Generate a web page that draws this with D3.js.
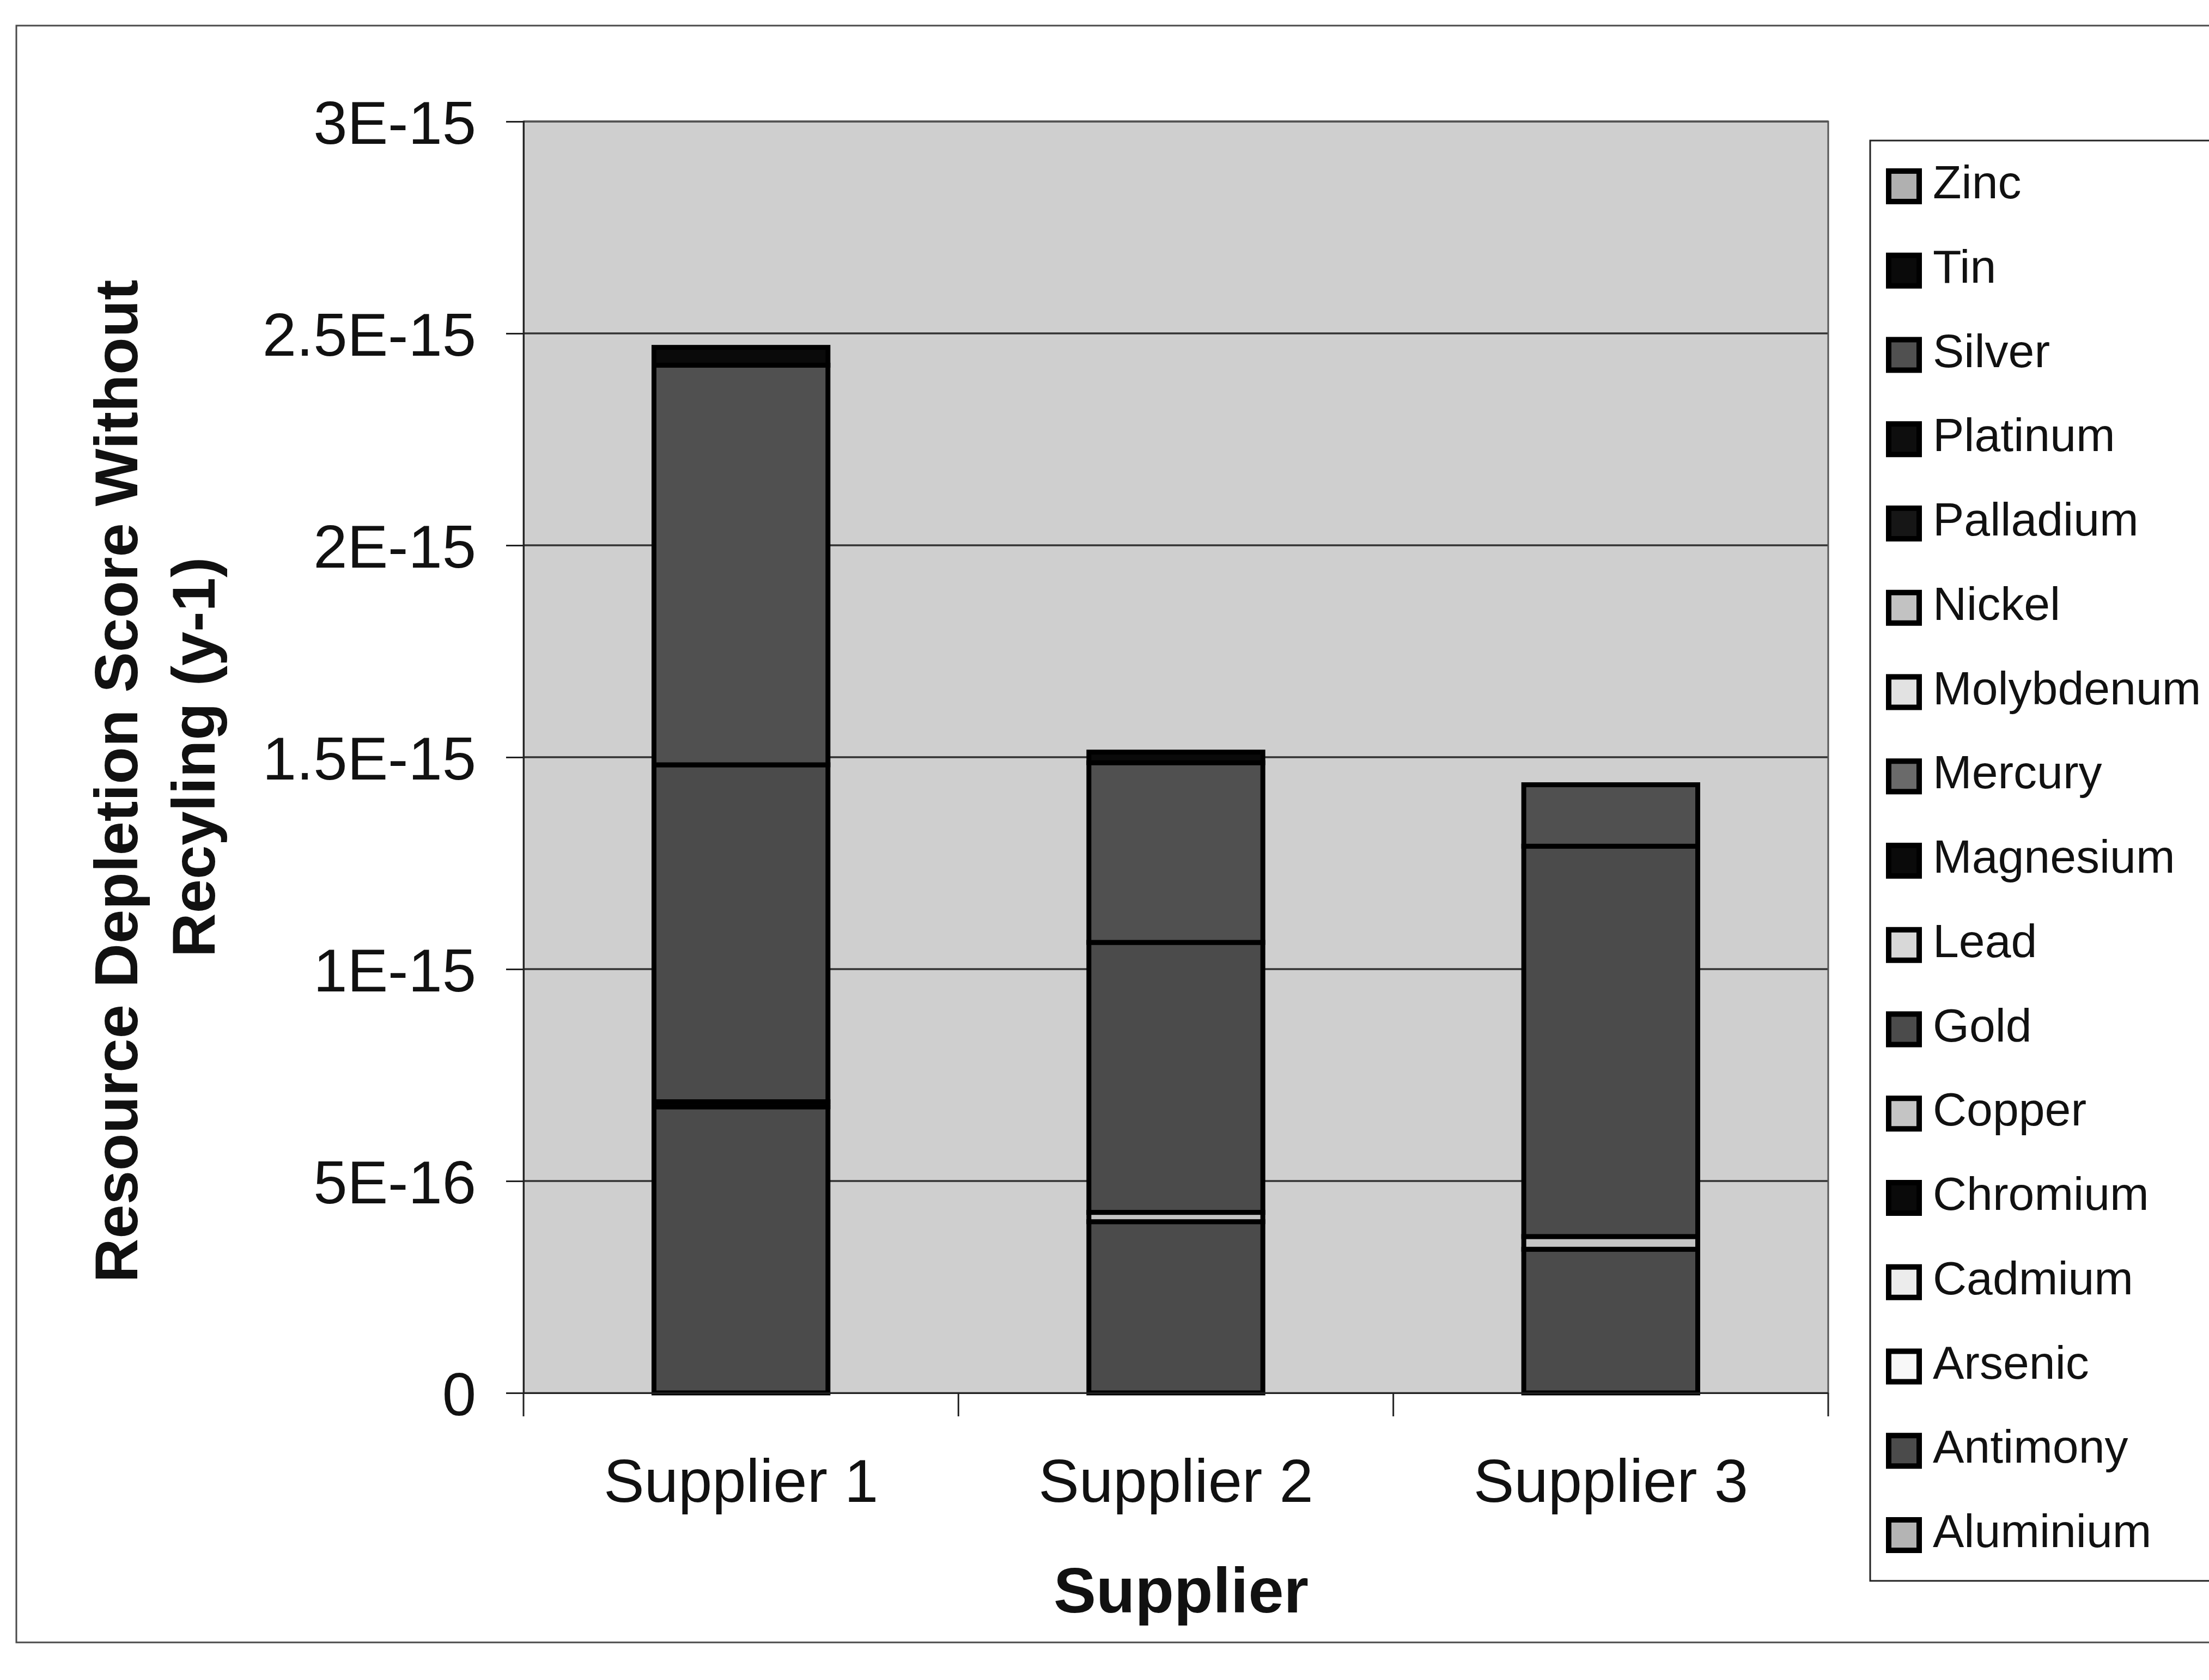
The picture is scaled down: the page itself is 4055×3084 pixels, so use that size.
<!DOCTYPE html>
<html>
<head>
<meta charset="utf-8">
<script src="https://cdn.jsdelivr.net/npm/d3@7/dist/d3.min.js"></script>
<style>
  html, body { margin: 0; padding: 0; background: #ffffff; }
  svg { display: block; }
  text { font-family: "Liberation Sans", Arial, Helvetica, sans-serif; fill: #111; }
</style>
</head>
<body>
<svg id="chart" width="4055" height="3084"></svg>
<script>
// Suppliers on the x axis
const suppliers = ["Supplier 1", "Supplier 2", "Supplier 3"];

// Metals in stacking order (first = bottom of each column)
const metals = ["Aluminium", "Antimony", "Arsenic", "Cadmium", "Chromium", "Copper", "Gold",
  "Lead", "Magnesium", "Mercury", "Molybdenum", "Nickel", "Palladium", "Platinum",
  "Silver", "Tin", "Zinc"];

// Resource depletion score per metal and supplier (y-1)
const aluminium  = [0, 0, 0];
const antimony   = [0.675e-15, 0.404e-15, 0.339e-15];
const arsenic    = [0, 0, 0];
const cadmium    = [0, 0, 0];
const chromium   = [0.012e-15, 0, 0];
const copper     = [0, 0.022e-15, 0.030e-15];
const gold       = [0.795e-15, 0.637e-15, 0.921e-15];
const lead       = [0, 0, 0];
const magnesium  = [0, 0, 0];
const mercury    = [0, 0, 0];
const molybdenum = [0, 0, 0];
const nickel     = [0, 0, 0];
const palladium  = [0, 0, 0];
const platinum   = [0, 0, 0];
const silver     = [0.943e-15, 0.424e-15, 0.145e-15];
const tin        = [0.042e-15, 0.025e-15, 0];
const zinc       = [0, 0, 0];

// Grey shades used for each metal
const metalColors = ["#b4b4b4", "#4b4b4b", "#f8f8f8", "#ececec", "#0a0a0a", "#c4c4c4", "#4b4b4b",
  "#d8d8d8", "#0a0a0a", "#6a6a6a", "#e2e2e2", "#c2c2c2", "#161616", "#0e0e0e",
  "#505050", "#0a0a0a", "#b0b0b0"];

// Y axis ticks and their labels
const yTickValues = [0, 0.5e-15, 1e-15, 1.5e-15, 2e-15, 2.5e-15, 3e-15];
const yTickLabels = ["0", "5E-16", "1E-15", "1.5E-15", "2E-15", "2.5E-15", "3E-15"];

const seriesValues = [aluminium, antimony, arsenic, cadmium, chromium, copper, gold, lead,
  magnesium, mercury, molybdenum, nickel, palladium, platinum, silver, tin, zinc];

// Table for the stack layout: one row per supplier
const table = suppliers.map((s, i) => {
  const row = { supplier: s };
  metals.forEach((m, j) => { row[m] = seriesValues[j][i]; });
  return row;
});

const svg = d3.select("#chart");

// Outer chart frame
svg.append("rect")
  .attr("x", 30).attr("y", 47).attr("width", 4100).attr("height", 2968)
  .attr("fill", "#ffffff").attr("stroke", "#4a4a4a").attr("stroke-width", 3);

const plot = { left: 961, right: 3356, top: 223, bottom: 2557 };

const x = d3.scaleBand()
  .domain(suppliers)
  .range([plot.left, plot.right])
  .paddingInner(0.6)
  .paddingOuter(0.3);

const y = d3.scaleLinear()
  .domain([0, 3e-15])
  .range([plot.bottom, plot.top]);

const color = d3.scaleOrdinal().domain(metals).range(metalColors);

// Plot area background
svg.append("rect")
  .attr("x", plot.left).attr("y", plot.top)
  .attr("width", plot.right - plot.left).attr("height", plot.bottom - plot.top)
  .attr("fill", "#cfcfcf");

// Horizontal gridlines
svg.append("g")
  .selectAll("line")
  .data(yTickValues.filter(v => v > 0))
  .join("line")
  .attr("x1", plot.left).attr("x2", plot.right)
  .attr("y1", d => y(d)).attr("y2", d => y(d))
  .attr("stroke", "#333").attr("stroke-width", 3.5);

// Plot area border
svg.append("rect")
  .attr("x", plot.left).attr("y", plot.top)
  .attr("width", plot.right - plot.left).attr("height", plot.bottom - plot.top)
  .attr("fill", "none").attr("stroke", "#555").attr("stroke-width", 3);

// Stacked columns
const stacked = d3.stack().keys(metals)(table);

svg.append("g")
  .selectAll("g")
  .data(stacked)
  .join("g")
  .attr("fill", d => color(d.key))
  .selectAll("rect")
  .data(d => d.filter(seg => seg[1] - seg[0] > 0))
  .join("rect")
  .attr("x", d => x(d.data.supplier))
  .attr("width", x.bandwidth())
  .attr("y", d => y(d[1]))
  .attr("height", d => y(d[0]) - y(d[1]))
  .attr("stroke", "#000")
  .attr("stroke-width", 9)
  .attr("stroke-linejoin", "miter");

// Y axis
const yAxis = svg.append("g")
  .attr("transform", `translate(${plot.left},0)`)
  .call(d3.axisLeft(y)
    .tickValues(yTickValues)
    .tickFormat((d, i) => yTickLabels[i])
    .tickSize(32)
    .tickPadding(0));
yAxis.select(".domain").attr("stroke", "#222").attr("stroke-width", 3);
yAxis.selectAll(".tick line").attr("stroke", "#222").attr("stroke-width", 3);
yAxis.selectAll(".tick text")
  .attr("font-size", 112)
  .attr("font-family", "'Liberation Sans', Arial, sans-serif")
  .attr("fill", "#111")
  .attr("x", -87)
  .attr("dy", "0.36em");

// X axis: labels centred on columns, ticks at category boundaries
const xAxis = svg.append("g")
  .attr("transform", `translate(0,${plot.bottom})`)
  .call(d3.axisBottom(x).tickSize(0).tickPadding(0));
xAxis.select(".domain").attr("stroke", "#222").attr("stroke-width", 3);
xAxis.selectAll(".tick text")
  .attr("font-size", 112)
  .attr("font-family", "'Liberation Sans', Arial, sans-serif")
  .attr("fill", "#111")
  .attr("dy", null)
  .attr("y", 200);

const boundaries = d3.range(suppliers.length + 1).map(i => plot.left + i * x.step());
xAxis.selectAll("line.boundary")
  .data(boundaries)
  .join("line")
  .attr("class", "boundary")
  .attr("x1", d => d).attr("x2", d => d)
  .attr("y1", 0).attr("y2", 43)
  .attr("stroke", "#222").attr("stroke-width", 3);

// Axis titles
svg.append("text")
  .attr("x", 2168).attr("y", 2960)
  .attr("text-anchor", "middle")
  .attr("font-size", 117).attr("font-weight", "bold")
  .text("Supplier");

svg.append("text")
  .attr("transform", "translate(252,1434) rotate(-90)")
  .attr("text-anchor", "middle")
  .attr("font-size", 112).attr("font-weight", "bold")
  .text("Resource Depletion Score Without");

svg.append("text")
  .attr("transform", "translate(394,1390) rotate(-90)")
  .attr("text-anchor", "middle")
  .attr("font-size", 112).attr("font-weight", "bold")
  .text("Recyling (y-1)");

// Legend, listed top-down in reverse stacking order
const legendItems = metals.slice().reverse();
const legend = svg.append("g");
legend.append("rect")
  .attr("x", 3433).attr("y", 258).attr("width", 700).attr("height", 2644)
  .attr("fill", "#ffffff").attr("stroke", "#222").attr("stroke-width", 3);

const rowY = d3.scaleLinear().domain([0, legendItems.length - 1]).range([342, 2818]);
const rows = legend.selectAll("g.item")
  .data(legendItems)
  .join("g")
  .attr("class", "item")
  .attr("transform", (d, i) => `translate(0,${rowY(i)})`);

rows.append("rect")
  .attr("x", 3467).attr("y", -28).attr("width", 56).attr("height", 56)
  .attr("fill", d => color(d))
  .attr("stroke", "#000").attr("stroke-width", 10);

rows.append("text")
  .attr("x", 3548).attr("y", 22)
  .attr("font-size", 86)
  .text(d => d);
</script>
</body>
</html>
